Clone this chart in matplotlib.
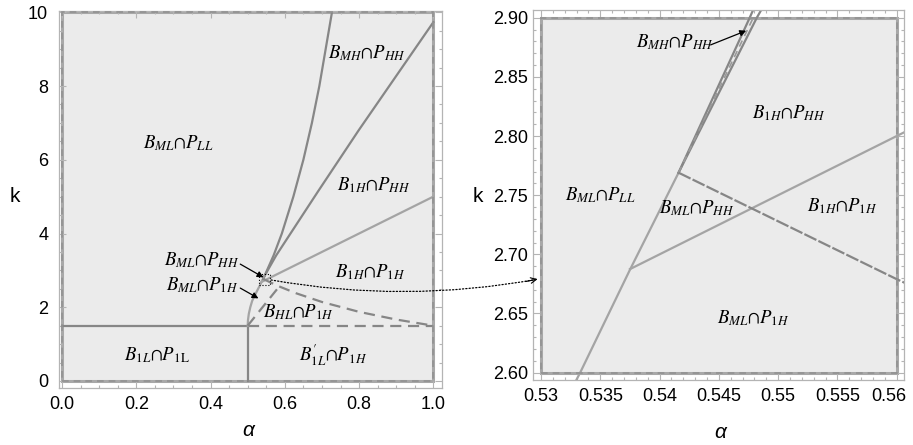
import matplotlib.pyplot as plt
from matplotlib.patches import Rectangle, ConnectionPatch
from matplotlib.transforms import ScaledTranslation

plt.rcParams['font.family'] = ['Liberation Sans', 'DejaVu Sans']
plt.rcParams['mathtext.fontset'] = 'stix'

# boundary curves in the (alpha, k) plane
k_split = 1.5
alpha_split = 0.5

ml_a = [0.5, 0.5008, 0.503, 0.507, 0.512, 0.518, 0.525, 0.5333, 0.5375, 0.5416]
ml_k = [1.5, 1.65, 1.82, 2.0, 2.17, 2.3, 2.44, 2.6, 2.687, 2.769]

mh_left_a = [0.5416, 0.5476, 0.570, 0.592, 0.623, 0.650, 0.673, 0.693, 0.710, 0.727]
mh_left_k = [2.769, 2.9, 3.41, 4.0, 5.0, 6.0, 7.0, 8.0, 9.0, 10.0]

mh_right_a = [0.5416, 0.5482, 0.577, 0.69, 0.799, 1.0]
mh_right_k = [2.769, 2.9, 3.41, 5.15, 6.8, 9.73]

mh_dash_a = [0.5416, 0.5479]
mh_dash_k = [2.769, 2.9]

h1_a = [0.5375, 1.0]
h1_k = [2.6875, 5.0]

hl_top_a = [0.5416, 0.56, 0.585, 0.63, 0.7, 0.8, 0.9, 1.0]
hl_top_k = [2.769, 2.679, 2.564, 2.381, 2.143, 1.875, 1.667, 1.5]

hl_left_a = [0.5, 0.585]
hl_left_k = [1.5, 2.564]

# plot ranges and ticks
full_range = (0.0, 1.0, 0.0, 10.0)
zoom_range = (0.53, 0.56, 2.6, 2.9)

full_xticks = [0.0, 0.2, 0.4, 0.6, 0.8, 1.0]
full_xlabels = ['0.0', '0.2', '0.4', '0.6', '0.8', '1.0']
full_yticks = [0, 2, 4, 6, 8, 10]
full_ylabels = ['0', '2', '4', '6', '8', '10']

zoom_xticks = [0.53, 0.535, 0.54, 0.545, 0.55, 0.555, 0.56]
zoom_xlabels = ['0.53', '0.535', '0.54', '0.545', '0.55', '0.555', '0.56']
zoom_yticks = [2.60, 2.65, 2.70, 2.75, 2.80, 2.85, 2.90]
zoom_ylabels = ['2.60', '2.65', '2.70', '2.75', '2.80', '2.85', '2.90']

# region names
full_labels = [
    (r'$B_{ML}{\cap}P_{LL}$', 0.313, 6.44),
    (r'$B_{MH}{\cap}P_{HH}$', 0.821, 8.88),
    (r'$B_{1H}{\cap}P_{HH}$', 0.839, 5.31),
    (r'$B_{1H}{\cap}P_{1H}$', 0.830, 2.96),
    (r'$B_{HL}{\cap}P_{1H}$', 0.637, 1.88),
    (r'$B_{1L}{\cap}P_{\mathrm{1L}}$', 0.255, 0.70),
    (r'$B_{1L}^{\prime}{\cap}P_{1H}$', 0.731, 0.70),
]
zoom_labels = [
    (r'$B_{1H}{\cap}P_{HH}$', 0.5509, 2.8195),
    (r'$B_{ML}{\cap}P_{LL}$', 0.5350, 2.750),
    (r'$B_{ML}{\cap}P_{HH}$', 0.5431, 2.739),
    (r'$B_{1H}{\cap}P_{1H}$', 0.5554, 2.741),
    (r'$B_{ML}{\cap}P_{1H}$', 0.5479, 2.646),
]

DARK = '#868686'
LIGHT = '#a4a4a4'
FILL = '#ebebeb'
FRAME = '#b4b4b4'
LABEL_SIZE = 13.5


def draw_curves(ax, rng, dash):
    x0, x1, y0, y1 = rng
    ax.add_patch(Rectangle((x0, y0), x1 - x0, y1 - y0, facecolor=FILL,
                           edgecolor='#a8a8a8', lw=2.2, zorder=0))
    ax.add_patch(Rectangle((x0, y0), x1 - x0, y1 - y0, fill=False,
                           edgecolor='#929292', lw=1.2, ls=(0, (4, 3)), zorder=5))
    ax.plot([0, alpha_split], [k_split, k_split], color=DARK, lw=1.6)
    ax.plot([alpha_split, 1.0], [k_split, k_split], color=DARK, lw=1.6, ls=(0, dash))
    ax.plot([alpha_split, alpha_split], [0, k_split], color=DARK, lw=1.6)
    ax.plot(ml_a, ml_k, color=LIGHT, lw=1.6)
    ax.plot(mh_left_a, mh_left_k, color=DARK, lw=1.6)
    ax.plot(mh_right_a, mh_right_k, color=DARK, lw=1.6)
    ax.plot(mh_dash_a, mh_dash_k, color='#9a9a9a', lw=1.2, ls=(0, (4, 3)))
    ax.plot(h1_a, h1_k, color=LIGHT, lw=1.6)
    ax.plot(hl_top_a, hl_top_k, color=DARK, lw=1.6, ls=(0, dash))
    ax.plot(hl_left_a, hl_left_k, color=DARK, lw=1.6, ls=(0, dash))


def style_axes(ax, xlim, ylim, xt, xl, yt, yl, xminor, yminor, ypad):
    ax.set_xlim(*xlim)
    ax.set_ylim(*ylim)
    ax.set_xticks(xt)
    ax.set_xticklabels(xl)
    ax.set_yticks(yt)
    ax.set_yticklabels(yl)
    ax.set_xticks(xminor, minor=True)
    ax.set_yticks(yminor, minor=True)
    for s in ax.spines.values():
        s.set_color(FRAME)
        s.set_linewidth(0.9)
    ax.tick_params(which='both', direction='in', top=True, right=True,
                   color=FRAME, labelsize=13, width=0.8)
    ax.tick_params(which='major', length=5)
    ax.tick_params(which='minor', length=2.5)
    ax.tick_params(axis='x', pad=6)
    ax.tick_params(axis='y', pad=ypad)


fig = plt.figure(figsize=(9.13, 4.45), dpi=100)
ax1 = fig.add_axes([0.0650, 0.1281, 0.4188, 0.8472])
ax2 = fig.add_axes([0.5835, 0.1461, 0.4070, 0.8314])

draw_curves(ax1, full_range, (5, 3))
draw_curves(ax2, zoom_range, (6, 1))

style_axes(ax1, (-0.0073, 1.0226), (-0.19, 10.035),
           full_xticks, full_xlabels, full_yticks, full_ylabels,
           [i * 0.05 for i in range(21)], [i * 0.5 for i in range(21)], 8)
style_axes(ax2, (0.5293, 0.56064), (2.5938, 2.9065),
           zoom_xticks, zoom_xlabels, zoom_yticks, zoom_ylabels,
           [0.53 + i * 0.001 for i in range(31)], [2.6 + i * 0.01 for i in range(31)], 3.5)

# keep the last alpha label inside the figure
last = ax2.get_xticklabels()[-1]
last.set_transform(last.get_transform() + ScaledTranslation(-6 / 72, 0, fig.dpi_scale_trans))

for txt, a, k in full_labels:
    ax1.text(a, k, txt, ha='center', va='center', fontsize=LABEL_SIZE)
for txt, a, k in zoom_labels:
    ax2.text(a, k, txt, ha='center', va='center', fontsize=LABEL_SIZE)

# labels with pointer arrows
arrow = dict(arrowstyle='-|>', color='black', lw=0.9, mutation_scale=9, shrinkA=0, shrinkB=0)
ax1.text(0.375, 3.28, r'$B_{ML}{\cap}P_{HH}$', ha='center', va='center', fontsize=LABEL_SIZE)
ax1.annotate('', xy=(0.5426, 2.81), xytext=(0.48, 3.17), arrowprops=arrow)
ax1.text(0.3765, 2.60, r'$B_{ML}{\cap}P_{1H}$', ha='center', va='center', fontsize=LABEL_SIZE)
ax1.annotate('', xy=(0.529, 2.24), xytext=(0.48, 2.52), arrowprops=arrow)
ax2.text(0.5413, 2.879, r'$B_{MH}{\cap}P_{HH}$', ha='center', va='center', fontsize=LABEL_SIZE)
ax2.annotate('', xy=(0.5473, 2.889), xytext=(0.5443, 2.877), arrowprops=arrow)

# zoom window and link to the right panel
ax1.add_patch(Rectangle((0.53, 2.6), 0.03, 0.3, fill=False, edgecolor='black',
                        lw=0.8, ls=':', zorder=6))
con = ConnectionPatch(xyA=(0.563, 2.74), coordsA=ax1.transData,
                      xyB=(0.5297, 2.679), coordsB=ax2.transData,
                      arrowstyle='-', connectionstyle='arc3,rad=0.09',
                      color='black', lw=0.9, ls=':')
fig.add_artist(con)
ax2.annotate('', xy=(0.5297, 2.679), xytext=(0.5287, 2.677),
             arrowprops=dict(arrowstyle='->', color='black', lw=0.8,
                             mutation_scale=10, shrinkA=0, shrinkB=0),
             annotation_clip=False)

fig.text(248 / 913, 1 - 430 / 445, 'α', ha='center', va='center', fontsize=15, style='italic')
fig.text(15 / 913, 1 - 197 / 445, 'k', ha='center', va='center', fontsize=15)
fig.text(720 / 913, 1 - 433 / 445, 'α', ha='center', va='center', fontsize=15, style='italic')
fig.text(478 / 913, 1 - 197 / 445, 'k', ha='center', va='center', fontsize=15)

fig.savefig('out.png', dpi=100)
plt.close(fig)
